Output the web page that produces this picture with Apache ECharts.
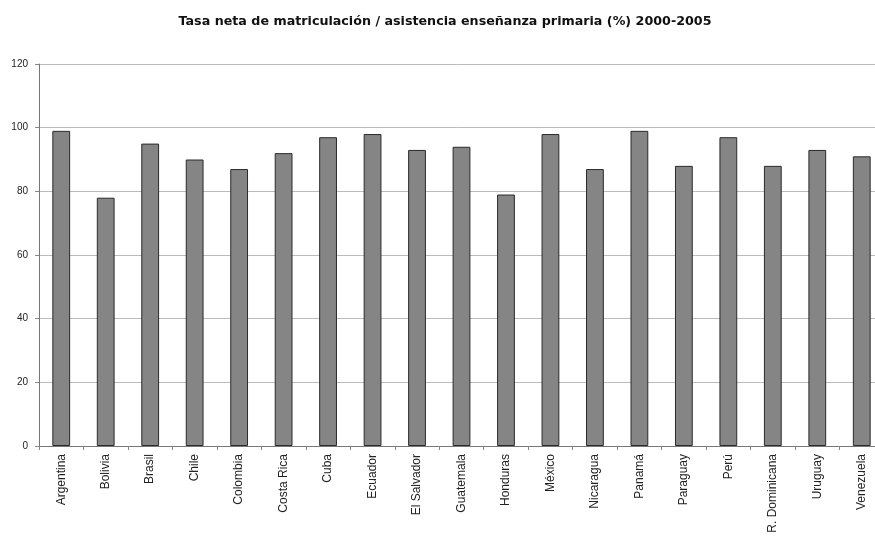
<!DOCTYPE html>
<html><head><meta charset="utf-8">
<script src="https://cdn.jsdelivr.net/npm/echarts@6/dist/echarts.min.js"></script>
<style>html,body{margin:0;padding:0;background:#fff}#c{width:875px;height:537px}</style>
</head><body><div id="c"></div>
<script>
const categories = ["Argentina","Bolivia","Brasil","Chile","Colombia","Costa Rica","Cuba","Ecuador","El Salvador","Guatemala","Honduras","México","Nicaragua","Panamá","Paraguay","Perú","R. Dominicana","Uruguay","Venezuela"];
const values = [99,78,95,90,87,92,97,98,93,94,79,98,87,99,88,97,88,93,91];
const yTicks = [0,20,40,60,80,100,120];
const title = "Tasa neta de matriculación / asistencia enseñanza primaria (%) 2000-2005";

const chart = echarts.init(document.getElementById('c'));
chart.setOption({
  animation:false,
  title:{text:title,left:440,top:10,textAlign:'center',textStyle:{fontFamily:'DejaVu Sans',fontSize:12.7,fontWeight:'bold',color:'#111'}},
  grid:{left:39,width:845,top:64,bottom:91,containLabel:false,outerBoundsMode:'none'},
  xAxis:{type:'category',data:categories,
    axisLine:{lineStyle:{color:'#777',width:1}},
    axisTick:{show:true,alignWithLabel:false,length:4,lineStyle:{color:'#888'}},
    axisLabel:{rotate:90,fontFamily:'Liberation Sans',fontSize:12,color:'#222',margin:8,interval:0}},
  yAxis:{type:'value',min:yTicks[0],max:yTicks[yTicks.length-1],interval:20,
    axisLine:{show:true,lineStyle:{color:'#777'}},
    axisTick:{show:true,length:4,lineStyle:{color:'#888'}},
    axisLabel:{fontFamily:'Liberation Sans',fontSize:10,color:'#222',margin:11},
    splitLine:{lineStyle:{color:'#bbb',width:1}}},
  series:[{type:'bar',data:values,barWidth:'40%',
    itemStyle:{color:'#858585',borderColor:'#2a2a2a',borderWidth:1}}]
});
</script></body></html>
